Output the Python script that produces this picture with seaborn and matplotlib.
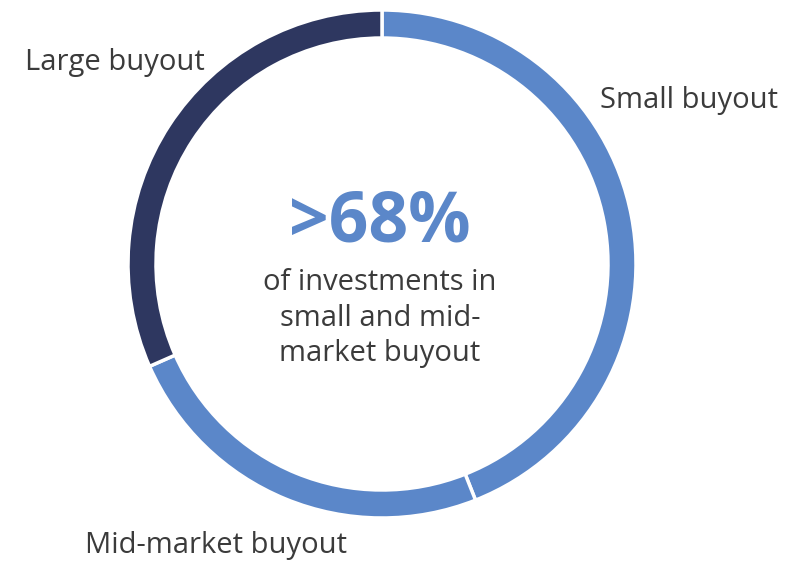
import matplotlib
matplotlib.use("Agg")
import matplotlib.pyplot as plt
import seaborn as sns

# Share of investments by segment (%), clockwise from 12 o'clock
segments = ["Small buyout", "Mid-market buyout", "Large buyout"]
shares = [44.0, 24.4, 31.6]
colors = ["#5B87C9", "#5B87C9", "#2E3760"]

headline = ">68%"
caption = "of investments in\nsmall and mid-\nmarket buyout"

sns.set_theme(style="white")
plt.rcParams["font.family"] = ["Open Sans", "DejaVu Sans"]

fig = plt.figure(figsize=(7.99, 5.61), dpi=100)
ax = fig.add_axes([0, 0, 1, 1])

# pixel-like coordinates, y up
cx, cy, r = 382, 297, 254
ax.pie(
    shares,
    colors=colors,
    startangle=90,
    counterclock=False,
    center=(cx, cy),
    radius=r,
    wedgeprops=dict(width=28, edgecolor="white", linewidth=2.5),
)
ax.set_xlim(0, 799)
ax.set_ylim(0, 561)
ax.set_aspect("equal")
ax.axis("off")

txt = "#3B3B3B"
fs = 21
ax.text(25, 561 - 62, segments[2], ha="left", va="center", fontsize=fs, color=txt)
ax.text(600, 561 - 100, segments[0], ha="left", va="center", fontsize=fs, color=txt)
ax.text(85, 561 - 545, segments[1], ha="left", va="center", fontsize=fs, color=txt)

ax.text(380, 561 - 223, headline, ha="center", va="center", fontsize=50,
        fontweight="bold", color="#5B87C9")
ax.text(380, 561 - 318, caption, ha="center", va="center", fontsize=fs,
        color=txt, linespacing=1.3)

fig.savefig("out.png", dpi=100)
